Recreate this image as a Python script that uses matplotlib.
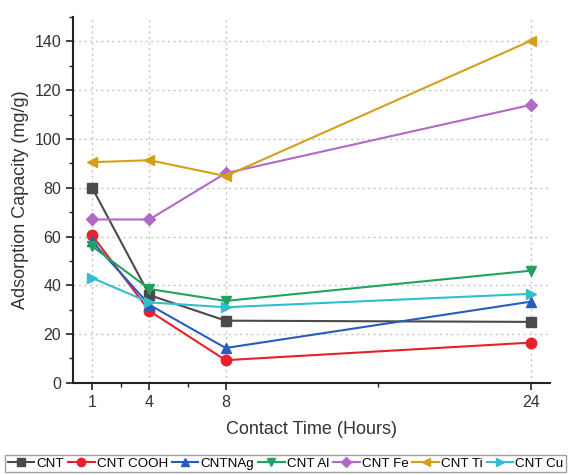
import matplotlib
matplotlib.use("Agg")
import matplotlib.pyplot as plt
from matplotlib.ticker import FixedLocator, MultipleLocator

plt.rcParams['font.family'] = ['Liberation Sans', 'DejaVu Sans']

hours = [1, 4, 8, 24]
series_names = ["CNT", "CNT COOH", "CNTNAg", "CNT Al", "CNT Fe", "CNT Ti", "CNT Cu"]
cnt = [80, 36, 25.5, 25]
cnt_cooh = [60.5, 29.5, 9.3, 16.5]
cnt_nag = [58, 32, 14.3, 33.3]
cnt_al = [56, 38.5, 33.6, 46]
cnt_fe = [67, 67, 86, 114]
cnt_ti = [90.5, 91.3, 84.8, 140.3]
cnt_cu = [43, 33, 31, 36.5]
values = [cnt, cnt_cooh, cnt_nag, cnt_al, cnt_fe, cnt_ti, cnt_cu]

colors = ["#4a4a4a", "#e8202a", "#2a5cbf", "#1fa35f", "#b06ac6", "#d4a017", "#2fbfcf"]
markers = ["s", "o", "^", "v", "D", "<", ">"]
msizes = [6.5, 7.5, 7.5, 7.5, 6.5, 7.5, 7.5]

fig = plt.figure(figsize=(5.71, 4.75), dpi=100)
ax = fig.add_axes([0.128, 0.194, 0.835, 0.770])

for name, vals, c, m, ms in zip(series_names, values, colors, markers, msizes):
    ax.plot(hours, vals, color=c, marker=m, markersize=ms, linewidth=1.5, label=name)

ax.set_xlim(0, 25)
ax.set_ylim(0, 150)
ax.set_xticks(hours)
ax.xaxis.set_minor_locator(FixedLocator([2.5, 6, 16]))
ax.set_yticks([0, 20, 40, 60, 80, 100, 120, 140])
ax.yaxis.set_minor_locator(MultipleLocator(10))
ax.tick_params(axis='both', which='major', labelsize=11.5, direction='out', length=5, width=1.2, colors='#222222')
ax.tick_params(axis='both', which='minor', direction='out', length=3, width=1.0, colors='#222222')
for lab in ax.get_xticklabels() + ax.get_yticklabels():
    lab.set_color('#333333')

ax.grid(True, which='major', linestyle=(0, (1.5, 2.5)), color='#c4c4c4', linewidth=1.0)
ax.set_axisbelow(True)
for s in ['top', 'right']:
    ax.spines[s].set_visible(False)
for s in ['left', 'bottom']:
    ax.spines[s].set_linewidth(1.5)
    ax.spines[s].set_color('#222222')

ax.set_xlabel("Contact Time (Hours)", fontsize=13, color='#333333', labelpad=8)
ax.set_ylabel("Adsorption Capacity (mg/g)", fontsize=13, color='#333333', labelpad=4)

leg = fig.legend(loc='lower center', bbox_to_anchor=(0.5, 0.0), ncol=7, fontsize=9.6,
                 frameon=True, fancybox=False, edgecolor='#888888', handlelength=2.0,
                 handletextpad=0.15, columnspacing=0.3, borderpad=0.2, markerscale=0.8,
                 borderaxespad=0.2)
leg.get_frame().set_linewidth(1.0)

fig.savefig("out.png", dpi=100)
